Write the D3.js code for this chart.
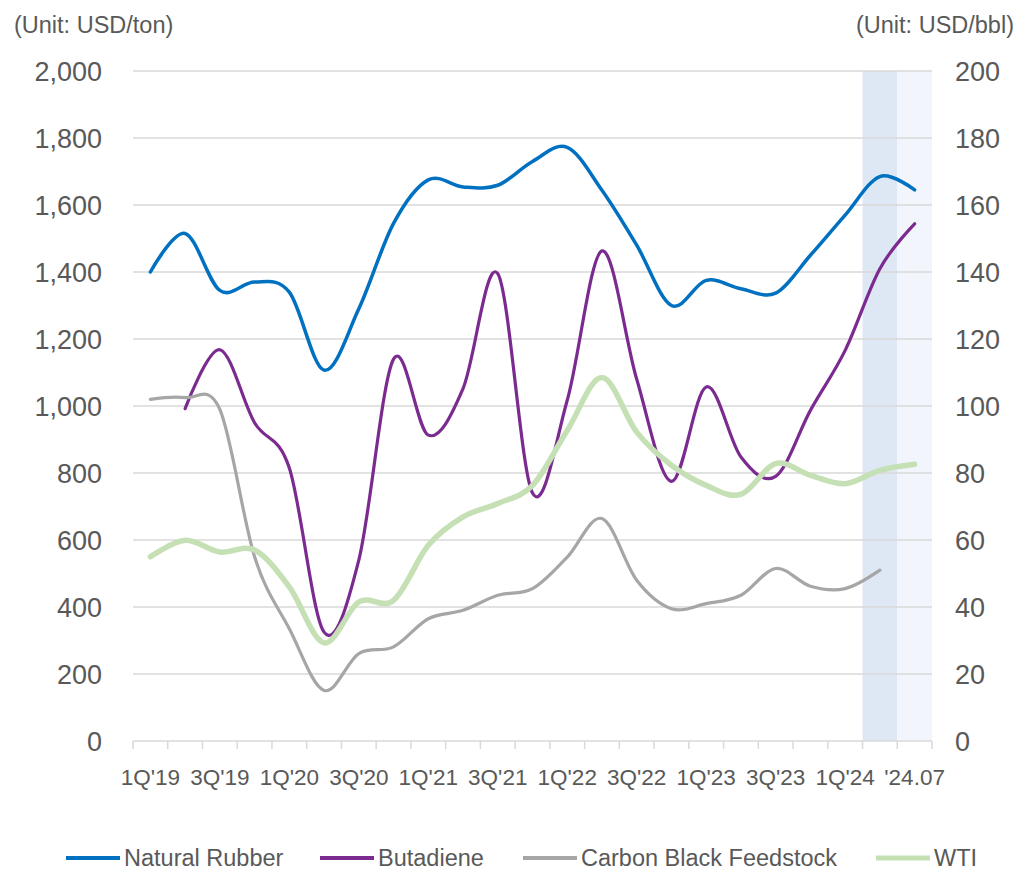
<!DOCTYPE html>
<html>
<head>
<meta charset="utf-8">
<script src="https://cdn.jsdelivr.net/npm/d3@7"></script>
<style>
  html, body { margin: 0; padding: 0; background: #fff; }
  svg { display: block; font-family: Arial, "Liberation Sans", sans-serif; }
  .tick-label { fill: #595959; }
</style>
</head>
<body>
<svg id="chart" width="1016" height="871"></svg>
<script>
// categories and series (USD/ton on left, WTI in USD/bbl on right)
const categories = ["1Q'19","2Q'19","3Q'19","4Q'19","1Q'20","2Q'20","3Q'20","4Q'20","1Q'21","2Q'21","3Q'21","4Q'21",
  "1Q'22","2Q'22","3Q'22","4Q'22","1Q'23","2Q'23","3Q'23","4Q'23","1Q'24","2Q'24","'24.07"];
const naturalRubber = [1400,1515,1345,1370,1340,1107,1290,1545,1675,1654,1659,1730,1772,1644,1480,1300,1375,1350,1337,1450,1570,1685,1645];
const butadiene = [null,992,1168,950,815,325,540,1140,913,1052,1395,740,1017,1463,1080,775,1057,848,790,987,1166,1410,1544];
const carbonBlack = [1020,1025,990,550,335,151,261,281,365,390,435,455,549,664,480,395,410,435,515,462,455,510,null];
const wti = [55,59.9,56.4,57,46,29.3,41.5,42,58.4,66.9,70.9,76.3,92.7,108.5,92.2,82.3,76.3,73.6,82.8,79.3,76.8,80.8,82.6];
const leftTicks = [0,200,400,600,800,1000,1200,1400,1600,1800,2000];
const rightTicks = [0,20,40,60,80,100,120,140,160,180,200];
const shaded = [{cat:"2Q'24", color:"#dde8f4"}, {cat:"'24.07", color:"#f2f6fc"}];

const series = [
  {name:"Natural Rubber", values:naturalRubber, axis:"left", color:"#0070c0", width:3.5},
  {name:"Butadiene", values:butadiene, axis:"left", color:"#7b2a90", width:3.2},
  {name:"Carbon Black Feedstock", values:carbonBlack, axis:"left", color:"#a6a6a6", width:3.2},
  {name:"WTI", values:wti, axis:"right", color:"#c5e0b4", width:5.5}
];

const svg = d3.select("#chart");
const plotL = 133, plotR = 932, plotT = 71, plotB = 741;

const x = d3.scaleBand().domain(categories).range([plotL, plotR]).padding(0);
const yL = d3.scaleLinear().domain([0, 2000]).range([plotB, plotT]);
const yR = d3.scaleLinear().domain([0, 200]).range([plotB, plotT]);

// shaded bands
svg.append("g").selectAll("rect").data(shaded).join("rect")
  .attr("x", d => x(d.cat)).attr("width", x.bandwidth())
  .attr("y", plotT).attr("height", plotB - plotT)
  .attr("fill", d => d.color);

// gridlines
svg.append("g").selectAll("line").data(leftTicks.filter(v => v > 0)).join("line")
  .attr("x1", plotL).attr("x2", plotR)
  .attr("y1", d => yL(d)).attr("y2", d => yL(d))
  .attr("stroke", "#d9d9d9").attr("stroke-width", 1.5);

// x axis line + tick marks at category boundaries
svg.append("line").attr("x1", plotL).attr("x2", plotR).attr("y1", plotB).attr("y2", plotB)
  .attr("stroke", "#d9d9d9").attr("stroke-width", 1.5);
const bounds = categories.map(c => x(c)).concat([x(categories[categories.length - 1]) + x.bandwidth()]);
svg.append("g").selectAll("line").data(bounds).join("line")
  .attr("x1", d => d).attr("x2", d => d).attr("y1", plotB).attr("y2", plotB + 8)
  .attr("stroke", "#d9d9d9").attr("stroke-width", 1.5);

// x labels (every other category)
svg.append("g").selectAll("text").data(categories.filter((c, i) => i % 2 === 0)).join("text")
  .attr("class", "tick-label")
  .attr("x", d => x(d) + x.bandwidth() / 2).attr("y", 785)
  .attr("text-anchor", "middle").attr("font-size", 22.5)
  .text(d => d);

// y axes labels
svg.append("g").selectAll("text").data(leftTicks).join("text")
  .attr("class", "tick-label")
  .attr("x", 102).attr("y", d => yL(d)).attr("dy", "0.36em")
  .attr("text-anchor", "end").attr("font-size", 27)
  .text(d => d3.format(",")(d));
svg.append("g").selectAll("text").data(rightTicks).join("text")
  .attr("class", "tick-label")
  .attr("x", 955).attr("y", d => yR(d)).attr("dy", "0.36em")
  .attr("text-anchor", "start").attr("font-size", 27)
  .text(d => d);

// unit labels
svg.append("text").attr("class", "tick-label").attr("x", 14).attr("y", 33)
  .attr("font-size", 23.5).text("(Unit: USD/ton)");
svg.append("text").attr("class", "tick-label").attr("x", 1014).attr("y", 33)
  .attr("text-anchor", "end").attr("font-size", 23.5).text("(Unit: USD/bbl)");

// lines
const cx = c => x(c) + x.bandwidth() / 2;
series.forEach(s => {
  const y = s.axis === "left" ? yL : yR;
  const pts = categories.map((c, i) => ({c, v: s.values[i]})).filter(p => p.v != null);
  const line = d3.line().x(p => cx(p.c)).y(p => y(p.v)).curve(d3.curveCatmullRom.alpha(0));
  svg.append("path").datum(pts)
    .attr("d", line)
    .attr("fill", "none").attr("stroke", s.color).attr("stroke-width", s.width)
    .attr("stroke-linecap", "round").attr("stroke-linejoin", "round");
});

// legend
const legendX = [66, 320, 523, 876];
const lg = svg.append("g").selectAll("g").data(series).join("g")
  .attr("transform", (d, i) => `translate(${legendX[i]},858)`);
lg.append("line").attr("x1", 0).attr("x2", 54)
  .attr("stroke", d => d.color).attr("stroke-width", d => d.name === "WTI" ? 5 : 4);
lg.append("text").attr("class", "tick-label").attr("x", 58).attr("y", 8)
  .attr("font-size", 23.5).text(d => d.name);
</script>
</body>
</html>
